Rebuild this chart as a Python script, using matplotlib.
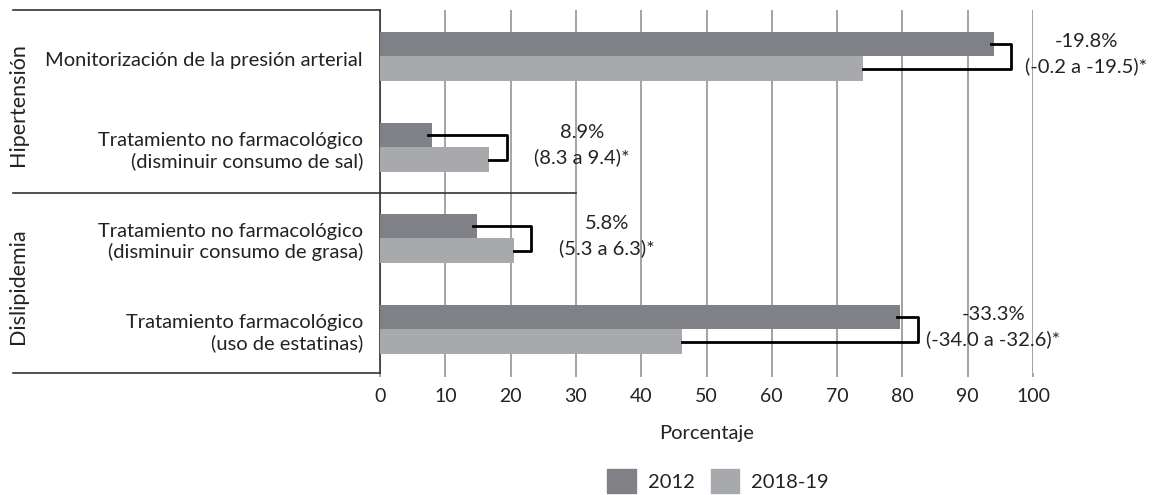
import matplotlib
matplotlib.use("Agg")
import matplotlib.pyplot as plt
import matplotlib.patches as mpatches

plt.rcParams['font.family'] = ['Lato', 'DejaVu Sans']

# data
groups = ['Hipertensión', 'Dislipidemia']
categories = [
    'Monitorización de la presión arterial',
    'Tratamiento no farmacológico\n(disminuir consumo de sal)',
    'Tratamiento no farmacológico\n(disminuir consumo de grasa)',
    'Tratamiento farmacológico\n(uso de estatinas)',
]
group_of = [0, 0, 1, 1]
v2012 = [94.0, 7.9, 14.8, 79.7]
v2018 = [74.0, 16.7, 20.5, 46.2]
diff = [-19.8, 8.9, 5.8, -33.3]
ci_lo = [-0.2, 8.3, 5.3, -34.0]
ci_hi = [-19.5, 9.4, 6.3, -32.6]
xticks = list(range(0, 101, 10))

dark = '#808186'
light = '#a8a9ad'
grid_c = '#8a8a8a'
txt_c = '#222222'
fs = 14.5

fig = plt.figure(figsize=(11.52, 4.95), dpi=100)
ax = fig.add_axes([380 / 1152, 1 - 373 / 495, 653 / 1152, 363 / 495])

h = 0.27
ypos = list(range(len(categories)))
ax.barh([y - h / 2 for y in ypos], v2012, height=h, color=dark, zorder=3)
ax.barh([y + h / 2 for y in ypos], v2018, height=h, color=light, zorder=3)

ax.set_xlim(0, 100)
ax.set_ylim(3.48, -0.51)
ax.set_xticks(xticks)
ax.set_yticks([])
ax.xaxis.grid(True, color=grid_c, lw=1.1)
ax.set_axisbelow(True)
ax.tick_params(axis='x', length=3, color=grid_c, width=1.1, labelsize=14, pad=8,
               labelcolor=txt_c)
ax.set_xlabel('Porcentaje', fontsize=fs, labelpad=14, color=txt_c)
for s in ['top', 'right', 'bottom']:
    ax.spines[s].set_visible(False)
ax.spines['left'].set_color('#333333')
ax.spines['left'].set_linewidth(1.2)

# brackets joining the two bars, with the change and its interval
for i, y in enumerate(ypos):
    y1, y2 = y - h / 2, y + h / 2
    bx = max(v2012[i], v2018[i]) + 2.7
    ax.plot([v2012[i] - 0.5, bx, bx, v2018[i]], [y1, y1, y2, y2],
            color='black', lw=2, zorder=4, clip_on=False)
    tx = bx + 11.5
    ax.text(tx, y1 - 0.03, f'{diff[i]:.1f}%', ha='center', va='center', fontsize=fs, color=txt_c)
    ax.text(tx, y2 - 0.03, f'({ci_lo[i]:.1f} a {ci_hi[i]:.1f})*', ha='center', va='center',
            fontsize=fs, color=txt_c)

# left label panel
ytr = ax.get_yaxis_transform()
left = -0.562
for yline in [0, 1]:
    ax.plot([left, 0], [yline, yline], transform=ax.transAxes, color='#333333', lw=1.2, clip_on=False)
ax.plot([left, 0.30], [1.5, 1.5], transform=ytr, color='#333333', lw=1.2, clip_on=False, zorder=2)

for i, label in enumerate(categories):
    ax.text(-0.026, ypos[i] + 0.04, label, transform=ytr, ha='right', va='center',
            fontsize=fs, linespacing=1.2, color=txt_c)

for g, name in enumerate(groups):
    members = [ypos[i] for i in range(len(categories)) if group_of[i] == g]
    yc = sum(members) / len(members) + 0.03
    ax.text(-0.554, yc, name, transform=ytr, rotation=90, ha='center', va='center',
            fontsize=15.5, color=txt_c)

handles = [mpatches.Patch(color=dark, label='2012'), mpatches.Patch(color=light, label='2018-19')]
fig.legend(handles=handles, loc='center', bbox_to_anchor=(718 / 1152, 1 - 481 / 495), ncol=2,
           frameon=False, fontsize=fs, handlelength=1.4, handleheight=1.4,
           handletextpad=0.6, columnspacing=0.8, labelcolor=txt_c)

fig.savefig('out.png', dpi=100)
